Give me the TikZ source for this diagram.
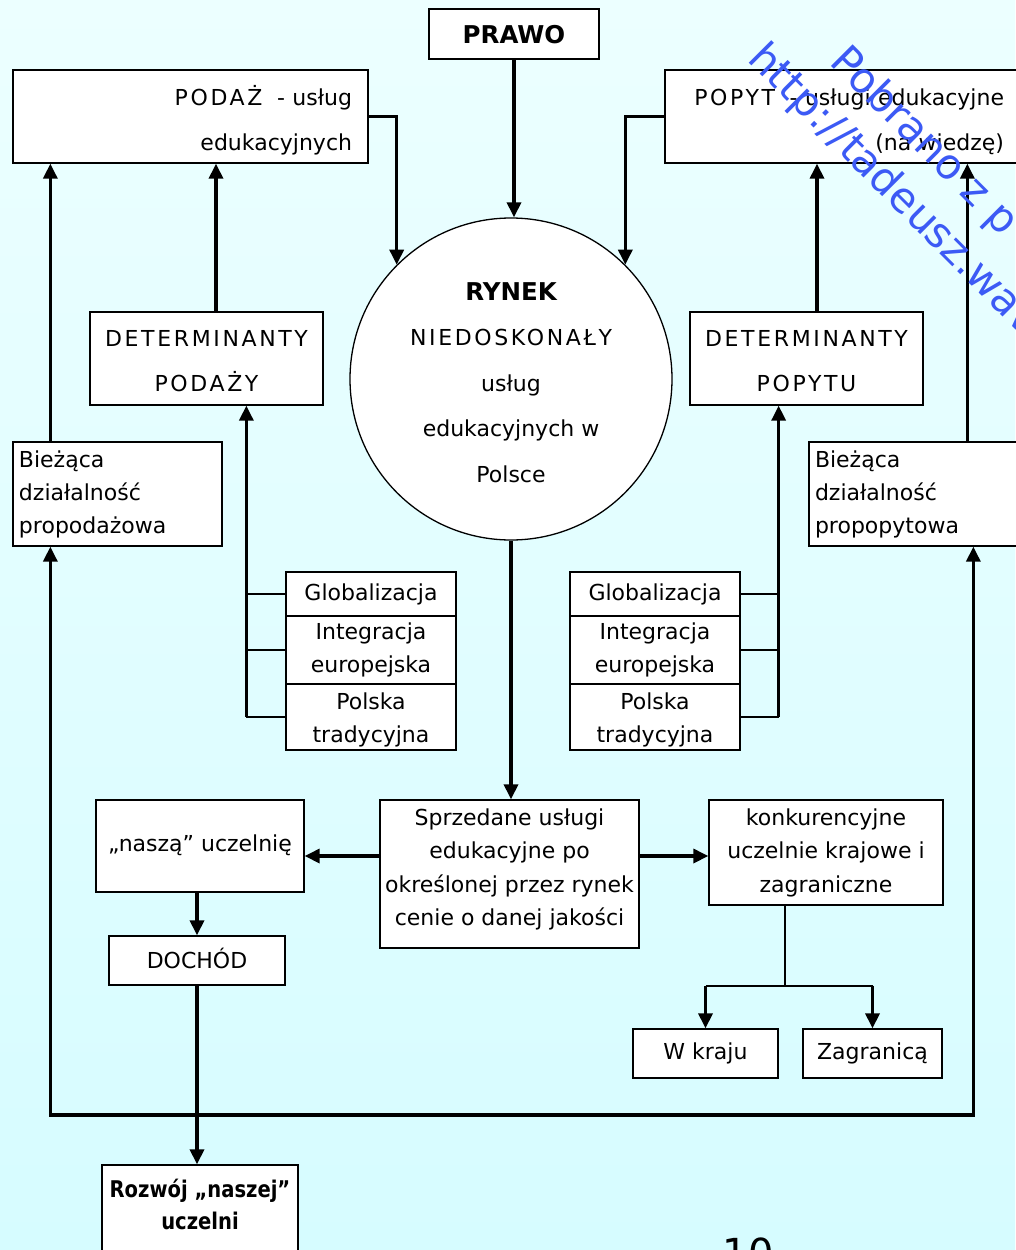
\documentclass[tikz,border=0pt]{standalone}
\usepackage{fontspec}
\setmainfont{DejaVu Sans}
\usetikzlibrary{arrows.meta}
\definecolor{bgtop}{RGB}{236,255,255}
\definecolor{bgbot}{RGB}{214,252,255}
\definecolor{wmblue}{RGB}{60,90,245}
\newcommand\fs[1]{\fontsize{22}{#1}\selectfont}
\newcommand\wide[1]{{\addfontfeature{LetterSpace=12}#1}}
\newcommand\lns[3]{\rule{0pt}{#1pt}#3\rule[-#2pt]{0pt}{0pt}}
\newcommand\bigbf[1]{{\fontsize{24.5}{24.5}\selectfont\bfseries #1}}
\tikzset{
  box/.style={draw,fill=white,line width=1.3pt,inner sep=0pt,align=center,font=\fs{33}},
  arr/.style={line width=3.3pt,-{Triangle[length=15pt,width=14pt]}},
  stub/.style={line width=2pt},
  watermark/.style={text=wmblue,font=\fontsize{42}{42}\selectfont,anchor=base west,rotate=-45,inner sep=0pt}
}
\begin{document}
\begin{tikzpicture}[x=1pt,y=-1pt]
  \useasboundingbox (0,0) rectangle (1015,1250);
  \shade[top color=bgtop,bottom color=bgbot] (0,0) rectangle (1015,1250);

  \node[box,minimum width=170,minimum height=50] (prawo) at (514,34) {\lns{22}{4}{\bigbf{PRAWO}}};
  \node[box,minimum width=355,minimum height=93,text width=323,align=right,font=\fs{45}] (podaz) at (190.5,116.5) {\lns{30}{8}{\wide{PODAŻ}\ \ - usług\\edukacyjnych}};
  \node[box,minimum width=355,minimum height=93,text width=323,align=right,font=\fs{45}] (popyt) at (842.5,116.5) {\lns{30}{8}{\wide{POPYT}\ \ - usługi edukacyjne\\(na wiedzę)}};
  \node[box,circle,minimum size=322,font=\fs{45.5}] (rynek) at (511,379) {\lns{30}{6}{\bigbf{RYNEK}\\\wide{NIEDOSKONAŁY}\\usług\\edukacyjnych w\\Polsce}};
  \node[box,minimum width=233,minimum height=93,font=\fs{45}] (detpod) at (206.5,358.5) {\lns{28}{8}{\wide{DETERMINANTY}\\\wide{PODAŻY}}};
  \node[box,minimum width=233,minimum height=93,font=\fs{45}] (detpop) at (806.5,358.5) {\lns{28}{8}{\wide{DETERMINANTY}\\\wide{POPYTU}}};
  \node[box,minimum width=209,minimum height=104,text width=197,align=left] (bpod) at (117.5,494) {\lns{22}{10}{Bieżąca\\działalność\\propodażowa}};
  \node[box,minimum width=209,minimum height=104,text width=197,align=left] (bpop) at (913.5,494) {\lns{22}{10}{Bieżąca\\działalność\\propopytowa}};
  \foreach \sx/\nm in {371/l,655/r}{
    \node[box,minimum width=170,minimum height=44] (glob\nm) at (\sx,594) {\lns{20}{8}{Globalizacja}};
    \node[box,minimum width=170,minimum height=68] (integ\nm) at (\sx,650) {\lns{20}{9}{Integracja\\europejska}};
    \node[box,minimum width=170,minimum height=66] (polska\nm) at (\sx,717) {\lns{23}{6}{Polska\\tradycyjna}};
  }
  \node[box,minimum width=259,minimum height=148,font=\fs{33.5}] (sprzedane) at (509.5,874) {\lns{20}{17.5}{Sprzedane usługi\\edukacyjne po\\określonej przez rynek\\cenie o danej jakości}};
  \node[box,minimum width=208,minimum height=92] (nasza) at (200,846) {\lns{20}{10}{„naszą” uczelnię}};
  \node[box,minimum width=234,minimum height=105,font=\fs{33.5}] (konk) at (826,852.5) {\lns{22}{10}{konkurencyjne\\uczelnie krajowe i\\zagraniczne}};
  \node[box,minimum width=176,minimum height=49] (dochod) at (197,960.5) {\lns{20}{5}{DOCHÓD}};
  \node[box,minimum width=145,minimum height=49] (wkraju) at (705.5,1053.5) {\lns{20}{9}{W kraju}};
  \node[box,minimum width=139,minimum height=49] (zagr) at (872.5,1053.5) {\lns{20}{9}{Zagranicą}};
  \node[box,minimum width=196,minimum height=89,font=\fontsize{23}{32}\selectfont\bfseries\addfontfeature{FakeStretch=0.85}] (rozwoj) at (200,1209.5) {\lns{22}{15}{Rozwój „naszej”\\uczelni}};
  \node[font=\fontsize{40}{40}\selectfont,anchor=base,inner sep=0pt] (pagenr) at (748,1267) {10};

  \draw[arr] (prawo.south) -- (prawo.south |- rynek.north);
  \draw[arr] (podaz.east) -| (rynek.135);
  \draw[arr] (popyt.west) -| (rynek.45);
  \draw[arr] ([xshift=9.5pt]detpod.north) -- ([xshift=9.5pt]detpod.north |- podaz.south);
  \draw[arr] ([xshift=38pt]bpod.north west) -- ([xshift=38pt]bpod.north west |- podaz.south);
  \draw[arr] ([xshift=10.5pt]detpop.north) -- ([xshift=10.5pt]detpop.north |- popyt.south);
  \draw[arr] ([xshift=159pt]bpop.north west) -- ([xshift=159pt]bpop.north west |- popyt.south);
  \foreach \f in {glob,integ,polska}{
    \draw[stub] (\f l.west) -- ++(-39,0);
    \draw[stub] (\f r.east) -- ++(38,0);
  }
  \draw[arr] ([xshift=-39pt]polskal.west) -- ([xshift=-39pt]polskal.west |- detpod.south);
  \draw[arr] ([xshift=38pt]polskar.east) -- ([xshift=38pt]polskar.east |- detpop.south);
  \draw[arr] (rynek.south) -- (rynek.south |- sprzedane.north);
  \draw[arr] ([yshift=18pt]sprzedane.west) -- ([yshift=18pt]sprzedane.west -| nasza.east);
  \draw[arr] ([yshift=18pt]sprzedane.east) -- ([yshift=18pt]sprzedane.east -| konk.west);
  \draw[arr] (nasza.south -| dochod.north) -- (dochod.north);
  \draw[arr] (dochod.south) -- (dochod.south |- rozwoj.north);
  \coordinate (loop) at (197,1115);
  \draw[arr] (loop) -| ([xshift=38pt]bpod.south west);
  \draw[arr] (loop) -| ([xshift=165pt]bpop.south west);
  \coordinate (split) at ([xshift=-41pt,yshift=-80pt]konk.south);
  \draw[stub] ([xshift=-41pt]konk.south) -- (split);
  \draw[stub] (wkraju.north |- split) -- (zagr.north |- split);
  \draw[arr] (wkraju.north |- split) -- (wkraju.north);
  \draw[arr] (zagr.north |- split) -- (zagr.north);

  \node[watermark] (wmurl) at (746,60) {http://tadeusz.wav};
  \node[watermark] (wmsrc) at (828,63) {Pobrano z p};
\end{tikzpicture}
\end{document}
